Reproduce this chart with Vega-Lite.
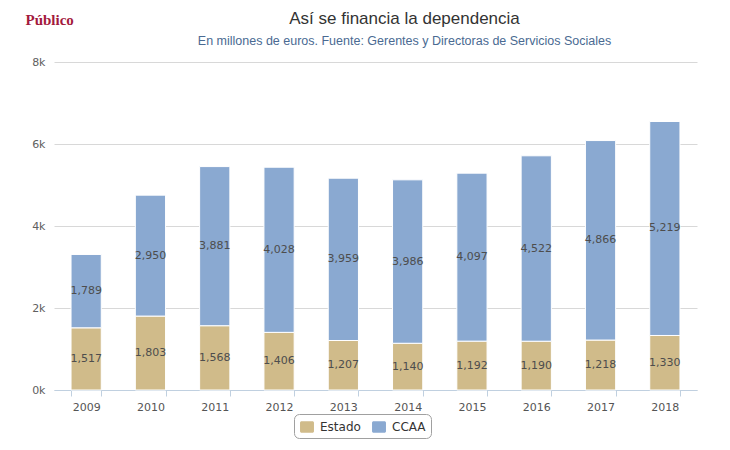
{
  "$schema": "https://vega.github.io/schema/vega-lite/v6.json",
  "autosize": "none",
  "width": 643,
  "height": 328,
  "padding": {"left": 54, "top": 62, "right": 33, "bottom": 60},
  "background": "white",
  "title": {
    "text": "Así se financia la dependencia",
    "subtitle": "En millones de euros. Fuente: Gerentes y Directoras de Servicios Sociales",
    "anchor": "middle",
    "frame": "group",
    "dx": 29,
    "offset": -36,
    "font": "Liberation Sans",
    "fontSize": 17,
    "fontWeight": "normal",
    "color": "#333333",
    "subtitleFont": "Liberation Sans",
    "subtitleFontSize": 12.5,
    "subtitleColor": "#4a6a92",
    "subtitlePadding": 7
  },
  "data": {
    "values": [
      {"year": "2009", "serie": "Estado", "value": 1517},
      {"year": "2009", "serie": "CCAA", "value": 1789},
      {"year": "2010", "serie": "Estado", "value": 1803},
      {"year": "2010", "serie": "CCAA", "value": 2950},
      {"year": "2011", "serie": "Estado", "value": 1568},
      {"year": "2011", "serie": "CCAA", "value": 3881},
      {"year": "2012", "serie": "Estado", "value": 1406},
      {"year": "2012", "serie": "CCAA", "value": 4028},
      {"year": "2013", "serie": "Estado", "value": 1207},
      {"year": "2013", "serie": "CCAA", "value": 3959},
      {"year": "2014", "serie": "Estado", "value": 1140},
      {"year": "2014", "serie": "CCAA", "value": 3986},
      {"year": "2015", "serie": "Estado", "value": 1192},
      {"year": "2015", "serie": "CCAA", "value": 4097},
      {"year": "2016", "serie": "Estado", "value": 1190},
      {"year": "2016", "serie": "CCAA", "value": 4522},
      {"year": "2017", "serie": "Estado", "value": 1218},
      {"year": "2017", "serie": "CCAA", "value": 4866},
      {"year": "2018", "serie": "Estado", "value": 1330},
      {"year": "2018", "serie": "CCAA", "value": 5219}
    ]
  },
  "encoding": {
    "x": {
      "field": "year",
      "type": "nominal",
      "scale": {"paddingInner": 0.53, "paddingOuter": 0.265},
      "axis": {
        "title": null,
        "labelAngle": 0,
        "labelFont": "DejaVu Sans",
        "labelFontSize": 11,
        "labelColor": "#555555",
        "labelPadding": 5,
        "domainColor": "#c0d0e0",
        "tickColor": "#c0d0e0",
        "tickSize": 6,
        "tickBand": "extent",
        "grid": false
      }
    },
    "order": {"field": "serie", "sort": "descending"}
  },
  "layer": [
    {
      "mark": {"type": "bar", "stroke": "white", "strokeWidth": 1},
      "encoding": {
        "y": {
          "field": "value",
          "type": "quantitative",
          "stack": "zero",
          "scale": {"domain": [0, 8000], "nice": false},
          "axis": {
            "values": [0, 2000, 4000, 6000, 8000],
            "labelExpr": "datum.value / 1000 + 'k'",
            "labelFont": "DejaVu Sans",
            "labelFontSize": 11,
            "labelColor": "#606060",
            "labelPadding": 9,
            "domain": false,
            "ticks": false,
            "grid": true,
            "gridColor": "#d8d8d8",
            "title": "Público",
            "titleAngle": 0,
            "titleX": -29,
            "titleY": -43,
            "titleAlign": "left",
            "titleBaseline": "middle",
            "titleFont": "Liberation Serif",
            "titleFontSize": 15,
            "titleFontWeight": "bold",
            "titleColor": "#a31a3d"
          }
        },
        "color": {
          "field": "serie",
          "type": "nominal",
          "scale": {"domain": ["Estado", "CCAA"], "range": ["#d0bb8a", "#8aa9d1"]},
          "legend": {
            "title": null,
            "orient": "none",
            "legendX": 240,
            "legendY": 352,
            "direction": "horizontal",
            "strokeColor": "#a0a0a0",
            "cornerRadius": 5,
            "padding": 5,
            "symbolType": "M-0.9,-0.55 A0.2,0.2 0 0 1 -0.7,-0.75 L0.7,-0.75 A0.2,0.2 0 0 1 0.9,-0.55 L0.9,0.55 A0.2,0.2 0 0 1 0.7,0.75 L-0.7,0.75 A0.2,0.2 0 0 1 -0.9,0.55 Z",
            "symbolSize": 240,
            "symbolStrokeWidth": 0,
            "labelFont": "DejaVu Sans",
            "labelFontSize": 12,
            "labelColor": "#333333",
            "columnPadding": 10,
            "labelOffset": 5
          }
        }
      }
    },
    {
      "mark": {
        "type": "text",
        "font": "DejaVu Sans",
        "fontSize": 11,
        "color": "#4d4d4d",
        "baseline": "middle",
        "align": "center"
      },
      "encoding": {
        "y": {"field": "value", "type": "quantitative", "stack": "zero", "bandPosition": 0.5},
        "text": {"field": "value", "type": "quantitative", "format": ",d"}
      }
    }
  ],
  "config": {
    "view": {"stroke": null}
  }
}
